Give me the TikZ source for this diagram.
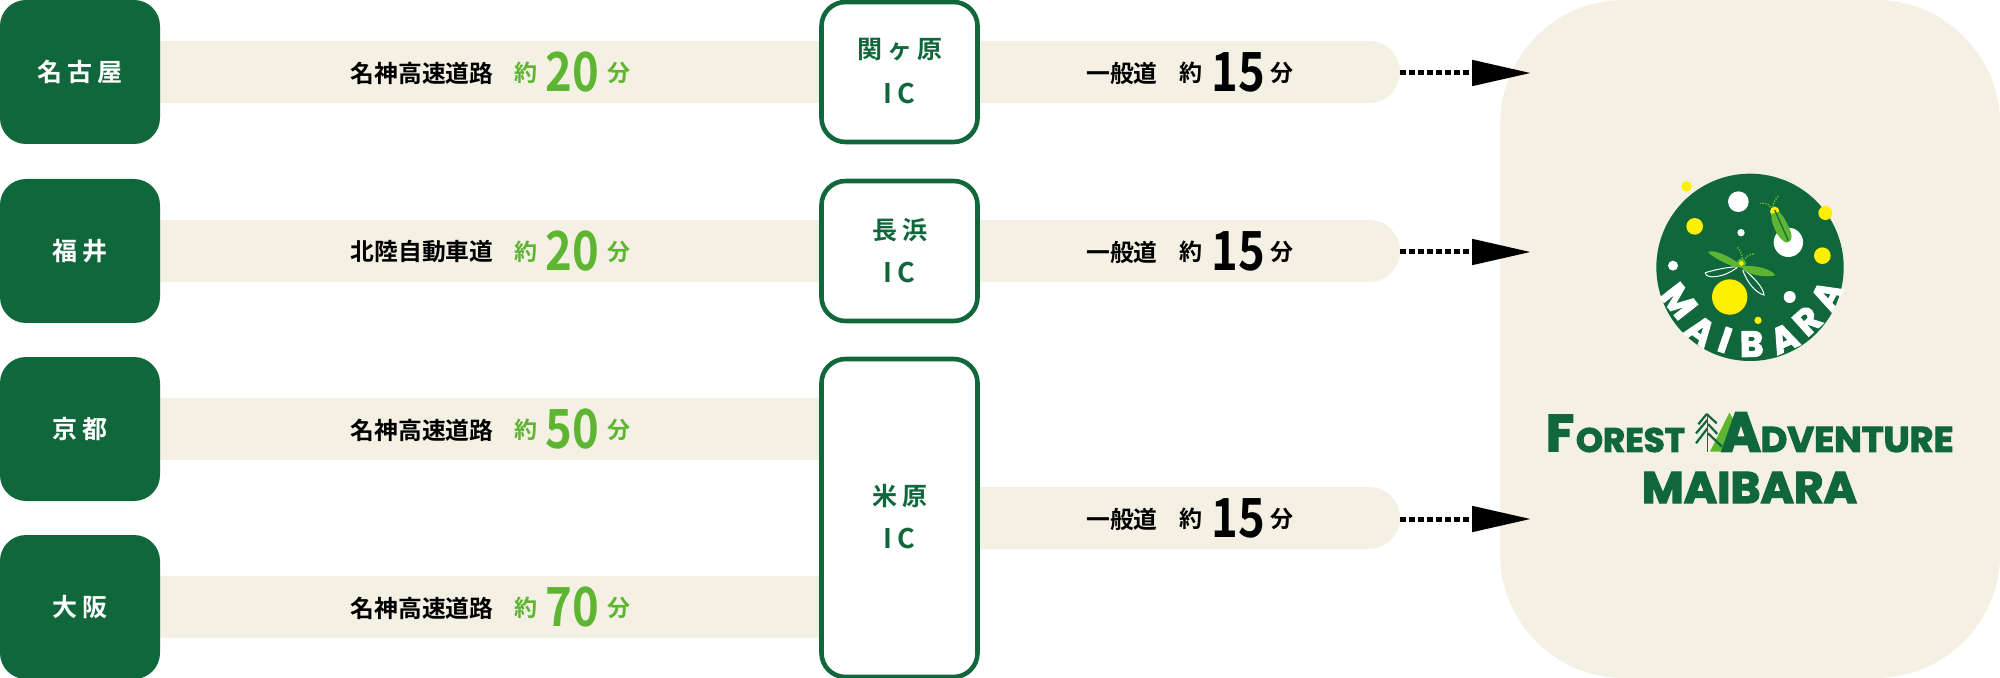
\documentclass[tikz,border=0pt]{standalone}
\usepackage{fontspec}
\usetikzlibrary{arrows.meta}
\newfontfamily\jp{Noto Sans CJK JP}[BoldFont=Noto Sans CJK JP Bold]
\newfontfamily\jpsp{Noto Sans CJK JP}[BoldFont=Noto Sans CJK JP Bold,LetterSpace=20]
\newfontfamily\logofont{Poppins}[BoldFont=Poppins Bold,BoldFeatures={FakeBold=3}]
\definecolor{dgreen}{HTML}{10673B}
\definecolor{lgreen}{HTML}{5DB531}
\definecolor{cream}{HTML}{F4F0E3}
\definecolor{fyellow}{HTML}{FFF000}
\newcommand\fitbox[3]{\resizebox{#1pt}{#2pt}{#3}}
\tikzset{
  band/.style={fill=cream,inner sep=0,minimum height=31pt},
  leftband/.style={band,minimum width=409.5pt},
  rightband/.style={band,minimum width=250.5pt,rounded corners=15.5pt},
  city/.style={fill=dgreen,text=white,inner sep=0,minimum width=80pt,minimum height=72pt,rounded corners=13pt,font=\jpsp\bfseries\fontsize{12.5}{15}\selectfont},
  icbox/.style={draw=dgreen,fill=white,line width=2.3pt,inner sep=0,minimum width=78pt,rounded corners=12pt},
  iclabel/.style={text=dgreen,inner sep=0,font=\jpsp\bfseries\fontsize{12.5}{15}\selectfont},
  road/.style={inner sep=0,font=\jp\bfseries\fontsize{11.9}{14}\selectfont},
  small/.style={inner sep=0,font=\jp\bfseries\fontsize{11.5}{14}\selectfont},
  bignum/.style={inner sep=0,font=\jp\bfseries\fontsize{27}{30}\selectfont},
  dotsarrow/.style={line width=2.5pt,dash pattern=on 2.7pt off 1.8pt,-{Triangle[length=29.5pt,width=12.5pt]}},
  logotext/.style={text=dgreen,inner sep=0,font=\logofont\bfseries\fontsize{20}{24}\selectfont},
  ringtext/.style={text=white,inner sep=0,font=\logofont\bfseries\fontsize{18}{20}\selectfont},
  antenna/.style={lgreen,line width=.7pt,dash pattern=on .8pt off .6pt},
}
\begin{document}
\begin{tikzpicture}[x=.5pt,y=-.5pt]
\useasboundingbox (0,0) rectangle (2000,678);
% panel
\node[fill=cream,inner sep=0,minimum width=250pt,minimum height=339pt,rounded corners=62pt] (panel) at (1750,339) {};
% left rows
\foreach \n/\y/\lab/\rd/\num in {a/72/名古屋/名神高速道路/20,b/251/福井/北陸自動車道/20,c/429/京都/名神高速道路/50,d/607/大阪/名神高速道路/70}{
  \node[leftband] (band\n) at (490,\y) {};
  \node[road] (road\n) at (422,\y+1) {\rd};
  \node[small,text=lgreen] (yaku\n) at (526,\y+1) {約};
  \node[bignum,text=lgreen] (num\n) at (572,\y) {\scalebox{.84}[1]{\num}};
  \node[small,text=lgreen] (fun\n) at (619,\y+1) {分};
  \node[city] (city\n) at (80,\y) {\lab};
}
% right rows
\foreach \n/\y in {a/72,b/251,c/518}{
  \node[rightband] (rb\n) at (1149.5,\y) {};
  \node[road] (ippan\n) at (1122,\y+1) {一般道};
  \node[small] (ryaku\n) at (1191,\y+1) {約};
  \node[bignum] (rnum\n) at (1238,\y) {\scalebox{.84}[1]{15}};
  \node[small] (rfun\n) at (1282,\y+1) {分};
  \coordinate (tip\n) at (1531,\y+1);
  \coordinate (st\n) at (rb\n.east |- tip\n);
  \draw[dotsarrow] (st\n) -- (tip\n);
}
% IC boxes
\node[icbox,minimum height=70pt] (ica) at (899.5,72) {};
\node[iclabel] (icat) at (899.5,50) {関ヶ原};
\node[iclabel,font=\jpsp\bfseries\fontsize{13.5}{15}\selectfont] (icai) at (899.5,94) {IC};
\node[icbox,minimum height=70pt] (icb) at (899.5,251) {};
\node[iclabel] (icbt) at (899.5,230) {長浜};
\node[iclabel,font=\jpsp\bfseries\fontsize{13.5}{15}\selectfont] (icbi) at (899.5,273) {IC};
\node[icbox,minimum height=159pt] (icc) at (899.5,518) {};
\node[iclabel] (icct) at (899.5,496) {米原};
\node[iclabel,font=\jpsp\bfseries\fontsize{13.5}{15}\selectfont] (icci) at (899.5,539) {IC};
% round logo, coordinates of a 3x crop
\begin{scope}[shift={(1600,150)},x=.16667pt,y=-.16667pt]
  \fill[dgreen] (450,352) circle (281);
  \foreach \cx/\cy/\r in {415/155/31,423/248/11,565/277/44,219/347/15,569/441/18}
    \fill[white] (\cx,\cy) circle (\r);
  \foreach \cx/\cy/\r in {259/109/16,284/229/25,676/189/21,667/317/25,389/441/53,474/511/11}
    \fill[fyellow] (\cx,\cy) circle (\r);
  % upper firefly
  \draw[antenna] (518,172) .. controls (520,160) and (525,148) .. (535,138);
  \draw[antenna] (512,172) .. controls (508,162) and (495,158) .. (480,160);
  \fill[fyellow] (524,184) circle (14);
  \fill[lgreen] (513,192) .. controls (515,235) and (540,270) .. (558,278) .. controls (575,275) and (578,265) .. (572,245) .. controls (560,215) and (548,195) .. (537,185) -- cycle;
  \draw[dgreen,line width=.6pt] (524,180) -- (565,272);
  % lower firefly
  \draw[antenna] (428,326) .. controls (425,312) and (420,300) .. (412,292);
  \draw[antenna] (436,326) .. controls (442,315) and (452,312) .. (466,312);
  \draw[white,line width=.5pt] (410,350) .. controls (375,352) and (335,362) .. (316,368) .. controls (315,388) and (370,385) .. (412,352);
  \draw[white,line width=.5pt] (428,360) .. controls (440,395) and (465,428) .. (492,435) .. controls (490,410) and (455,378) .. (432,358);
  \fill[lgreen] (414,353) .. controls (380,345) and (335,320) .. (323,305) .. controls (350,298) and (395,325) .. (416,340) -- cycle;
  \fill[lgreen] (428,348) .. controls (470,345) and (515,358) .. (526,376) .. controls (490,385) and (445,372) .. (428,358) -- cycle;
  \fill[lgreen] (424,340) circle (14);
  \fill[fyellow] (424,340) circle (7);
  % ring letters
  \foreach \i/\l/\cx/\cy/\rot in {1/M/237/453/-52,2/A/302/542/-36,3/I/375/570/-19,4/B/455/582/1,5/A/552/565/24,6/R/622/512/42,7/A/680/435/62}
    \node[ringtext,rotate=\rot] (ring\i) at (\cx,\cy) {\l};
\end{scope}
% word mark
\begin{scope}[shift={(1520,390)},x=.16667pt,y=-.16667pt]
  \fill[lgreen] (570,185) -- (628,68) -- (650,105) -- (612,185) -- cycle;
  \draw[dgreen,line width=.8pt] (562,72) -- (562,185);
  \draw[dgreen,line width=1.1pt] (560,72) -- (535,103) (562,90) -- (528,130) (562,115) -- (528,160)
     (560,72) -- (590,100) (564,102) -- (592,132) (564,130) -- (606,170);
\end{scope}
\node[logotext] (wf) at (1560,433) {\fitbox{14}{18}{F}};
\node[logotext] (worest) at (1630.5,440) {\fitbox{54.5}{12}{OREST}};
\node[logotext] (wa) at (1741,432) {\fitbox{20}{19.5}{A}};
\node[logotext] (wdv) at (1857,439.5) {\fitbox{96.5}{12.5}{DVENTURE}};
\node[logotext] (wm) at (1749.5,487.5) {\fitbox{107.5}{15.5}{MAIBARA}};
\end{tikzpicture}
\end{document}
